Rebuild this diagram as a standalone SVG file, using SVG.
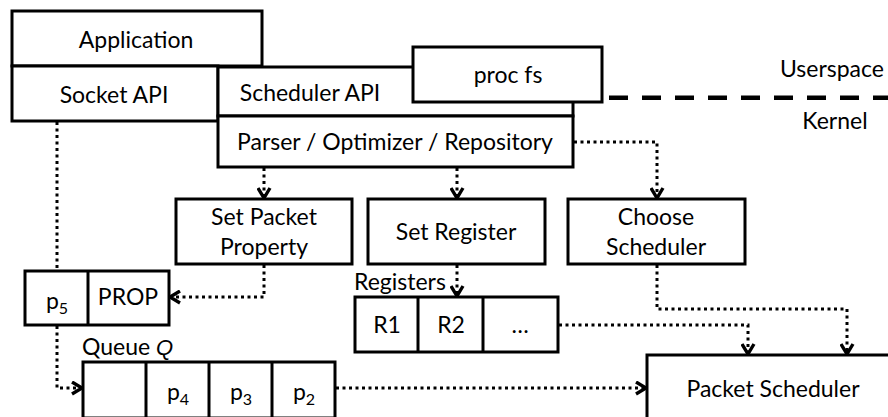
<svg xmlns="http://www.w3.org/2000/svg" width="888" height="417" viewBox="0 0 888 417">
  <style>
    .box { fill: #fff; stroke: #000; stroke-width: 3; }
    .lbl { font-family: Lato, "Open Sans", "Liberation Sans", sans-serif; font-size: 23px; fill: #000; text-anchor: middle; }
    .lft { text-anchor: start; }
    .sub { font-size: 16px; }
    .var { font-family: "Liberation Sans", "DejaVu Sans", sans-serif; font-style: italic; font-size: 22px; }
    .flow { fill: none; stroke: #000; stroke-width: 3; stroke-dasharray: 3 3.5; }
    .arrowed { marker-end: url(#chev); }
    .divider { fill: none; stroke: #000; stroke-width: 4.5; stroke-dasharray: 19 14; }
  </style>
  <defs>
    <marker id="chev" markerUnits="userSpaceOnUse" viewBox="0 0 13 15" refX="11" refY="7.5" markerWidth="13" markerHeight="15" orient="auto">
      <path d="M1,1.5 L11,7.5 L1,13.5" fill="none" stroke="#000" stroke-width="3.4" stroke-dasharray="none"/>
    </marker>
  </defs>

  <rect width="888" height="417" fill="#fff"/>

  <!-- user/kernel boundary -->
  <g id="boundary">
    <line class="divider" x1="609" y1="97.7" x2="888" y2="97.7"/>
    <text class="lbl" x="832" y="77">Userspace</text>
    <text class="lbl" x="835" y="129">Kernel</text>
  </g>

  <g id="application">
    <rect class="box" x="12" y="11" width="250" height="55"/>
    <text class="lbl" x="136" y="48">Application</text>
  </g>

  <g id="socket-api">
    <rect class="box" x="12" y="66" width="206" height="55"/>
    <text class="lbl" x="114" y="103">Socket API</text>
  </g>

  <g id="scheduler-api">
    <rect class="box" x="218" y="67" width="355" height="49"/>
    <text class="lbl" x="310" y="101">Scheduler API</text>
  </g>

  <g id="proc-fs">
    <rect class="box" x="413" y="47" width="189" height="55"/>
    <text class="lbl" x="508" y="83">proc fs</text>
  </g>

  <g id="parser">
    <rect class="box" x="218" y="116" width="355" height="51"/>
    <text class="lbl" x="395" y="150">Parser / Optimizer / Repository</text>
  </g>

  <g id="set-packet-property">
    <rect class="box" x="176" y="199" width="176" height="65"/>
    <text class="lbl" x="264" y="225">Set Packet</text>
    <text class="lbl" x="264" y="255">Property</text>
  </g>

  <g id="set-register">
    <rect class="box" x="368" y="199" width="177" height="65"/>
    <text class="lbl" x="456" y="240">Set Register</text>
  </g>

  <g id="choose-scheduler">
    <rect class="box" x="568" y="199" width="177" height="65"/>
    <text class="lbl" x="656" y="225">Choose</text>
    <text class="lbl" x="656" y="255">Scheduler</text>
  </g>

  <g id="packet-prop">
    <rect class="box" x="25" y="271" width="144" height="54"/>
    <line x1="88" y1="271" x2="88" y2="325" stroke="#000" stroke-width="3"/>
    <text class="lbl" x="57" y="309">p<tspan class="sub" dy="5">5</tspan></text>
    <text class="lbl" x="128" y="305">PROP</text>
  </g>

  <g id="registers">
    <text class="lbl lft" x="354" y="290">Registers</text>
    <rect class="box" x="355" y="297" width="203" height="55"/>
    <line x1="418" y1="297" x2="418" y2="352" stroke="#000" stroke-width="3"/>
    <line x1="483" y1="297" x2="483" y2="352" stroke="#000" stroke-width="3"/>
    <text class="lbl" x="387" y="333">R1</text>
    <text class="lbl" x="451" y="333">R2</text>
    <text class="lbl" x="520" y="333">…</text>
  </g>

  <g id="queue">
    <text class="lbl lft" x="82" y="355">Queue <tspan class="var">Q</tspan></text>
    <rect class="box" x="83" y="362" width="252" height="56"/>
    <line x1="146" y1="362" x2="146" y2="418" stroke="#000" stroke-width="3"/>
    <line x1="209" y1="362" x2="209" y2="418" stroke="#000" stroke-width="3"/>
    <line x1="272" y1="362" x2="272" y2="418" stroke="#000" stroke-width="3"/>
    <text class="lbl" x="178" y="400">p<tspan class="sub" dy="5">4</tspan></text>
    <text class="lbl" x="241" y="400">p<tspan class="sub" dy="5">3</tspan></text>
    <text class="lbl" x="304" y="400">p<tspan class="sub" dy="5">2</tspan></text>
  </g>

  <g id="packet-scheduler">
    <rect class="box" x="647" y="355" width="260" height="80"/>
    <text class="lbl" x="773" y="397">Packet Scheduler</text>
  </g>

  <!-- dotted control / data flows -->
  <g id="connectors">
    <path class="flow arrowed" d="M264,168 V198"/>
    <path class="flow arrowed" d="M457,168 V198"/>
    <path class="flow arrowed" d="M574,142 H657 V198"/>
    <path class="flow" d="M57,122 V270"/>
    <path class="flow arrowed" d="M264,265 V297 H170"/>
    <path class="flow arrowed" d="M57,326 V388 H82"/>
    <path class="flow arrowed" d="M457,265 V296"/>
    <path class="flow arrowed" d="M559,325 H748 V354"/>
    <path class="flow arrowed" d="M657,265 V309 H847 V354"/>
    <path class="flow arrowed" d="M336,388 H646"/>
  </g>
</svg>
